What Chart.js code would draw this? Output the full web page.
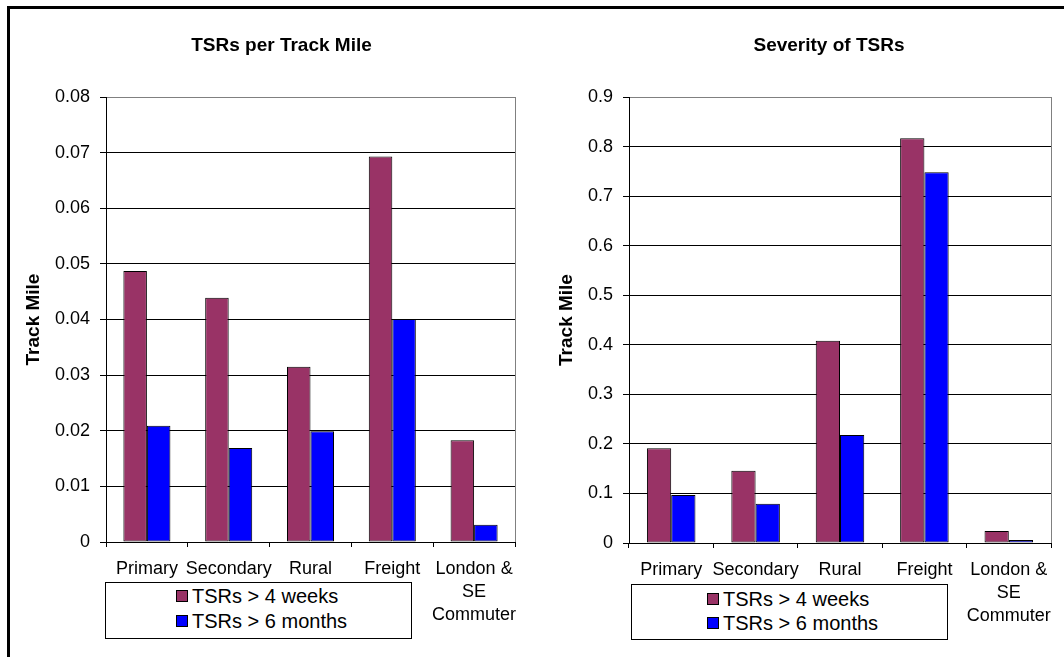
<!DOCTYPE html>
<html>
<head>
<meta charset="utf-8">
<title>TSRs</title>
<script src="https://cdn.jsdelivr.net/npm/chart.js@4.4.0/dist/chart.umd.min.js"></script>
<style>
body { margin: 0; background: #fff; font-family: "Liberation Sans", Arial, sans-serif; }
#page { position: relative; width: 1064px; height: 657px; overflow: hidden; }
#frame { position: absolute; left: 7px; top: 6px; width: 1100px; height: 700px;
         border-top: 3px solid #000; border-left: 3px solid #000; }
.chartBox { position: absolute; top: 0; height: 657px; }
.legend { position: absolute; border: 1px solid #000; background: #fff; box-sizing: border-box; }
.legend .item { position: absolute; height: 24px; display: flex; align-items: center;
                font-size: 20px; white-space: nowrap; color: #000; }
.legend .swatch { width: 10px; height: 10px; border: 1px solid #000; margin-right: 4px; }
</style>
</head>
<body>
<div id="page">
  <div id="frame"></div>
  <div class="chartBox" style="left:0; width:532px;"><canvas id="perMileChart"></canvas></div>
  <div class="chartBox" style="left:532px; width:532px;"><canvas id="severityChart"></canvas></div>
  <div class="legend" id="legendLeft" style="left:105px; top:582px; width:307px; height:57px;"></div>
  <div class="legend" id="legendRight" style="left:631px; top:584px; width:317px; height:56px;"></div>
</div>
<script>
// categories and series
var categories = ['Primary', 'Secondary', 'Rural', 'Freight', ['London &', 'SE', 'Commuter']];
var seriesNames = ['TSRs > 4 weeks', 'TSRs > 6 months'];
var seriesColors = ['#993366', '#0000FF'];

// TSRs per track mile
var perMile4Weeks = [0.0487, 0.0439, 0.0315, 0.0693, 0.0183];
var perMile6Months = [0.0209, 0.0169, 0.0199, 0.0401, 0.0031];
var perMileTicks = [0, 0.01, 0.02, 0.03, 0.04, 0.05, 0.06, 0.07, 0.08];

// severity of TSRs
var severity4Weeks = [0.191, 0.146, 0.408, 0.817, 0.024];
var severity6Months = [0.097, 0.079, 0.218, 0.748, 0.006];
var severityTicks = [0, 0.1, 0.2, 0.3, 0.4, 0.5, 0.6, 0.7, 0.8, 0.9];

Chart.defaults.font.family = '"Liberation Sans", Arial, sans-serif';
Chart.defaults.color = '#000';

// grey frame on the right edge of the plot area
var plotFrame = {
    id: 'plotFrame',
    afterDraw: function (chart) {
        var a = chart.chartArea;
        var c = chart.ctx;
        c.save();
        c.strokeStyle = '#808080';
        c.lineWidth = 1;
        c.beginPath();
        c.moveTo(Math.round(a.right) + 0.5, a.top);
        c.lineTo(Math.round(a.right) + 0.5, a.bottom);
        c.stroke();
        c.restore();
    }
};

// chart heading, centred over the whole chart object rather than the canvas
var heading = {
    id: 'heading',
    afterDraw: function (chart, args, opts) {
        var c = chart.ctx;
        c.save();
        c.font = 'bold 19px "Liberation Sans", Arial, sans-serif';
        c.fillStyle = '#000';
        c.textAlign = 'center';
        c.textBaseline = 'middle';
        c.fillText(opts.text, opts.x, opts.y);
        c.restore();
    }
};

function makeChart(id, title, values, ticks, box) {
    var top = ticks[ticks.length - 1];
    return new Chart(document.getElementById(id), {
        type: 'bar',
        data: {
            labels: categories,
            datasets: values.map(function (v, i) {
                return {
                    label: seriesNames[i],
                    data: v,
                    backgroundColor: seriesColors[i],
                    borderColor: '#000',
                    borderWidth: 1,
                    borderSkipped: false,
                    categoryPercentage: 0.575,
                    barPercentage: 1.0
                };
            })
        },
        options: {
            responsive: true,
            maintainAspectRatio: false,
            animation: false,
            layout: { padding: { left: box.padLeft, right: box.padRight, top: 97, bottom: 0 } },
            plugins: {
                legend: { display: false },
                tooltip: { enabled: false },
                heading: { text: title, x: box.titleX, y: 46 }
            },
            scales: {
                x: {
                    grid: { drawOnChartArea: false, tickLength: 5, color: '#000' },
                    border: { color: '#000', width: 1 },
                    ticks: {
                        font: { size: 18, lineHeight: 1.3 },
                        color: '#000',
                        padding: 10,
                        autoSkip: false,
                        maxRotation: 0,
                        minRotation: 0
                    },
                    afterFit: function (scale) { scale.height = box.xHeight; }
                },
                y: {
                    min: ticks[0],
                    max: top,
                    ticks: {
                        stepSize: ticks[1] - ticks[0],
                        font: { size: 18 },
                        color: '#000',
                        padding: 10
                    },
                    grid: {
                        tickLength: 6,
                        tickColor: '#000',
                        color: function (ctx) {
                            return ctx.tick && Math.abs(ctx.tick.value - top) < 1e-9 ? '#808080' : '#000';
                        }
                    },
                    border: { color: '#000', width: 1 },
                    title: {
                        display: true,
                        text: 'Track Mile',
                        color: '#000',
                        font: { size: 19, weight: 'bold' },
                        padding: { top: box.titlePad, bottom: 0 }
                    },
                    afterFit: function (scale) { scale.width = box.yWidth; }
                }
            }
        },
        plugins: [plotFrame, heading]
    });
}

function makeLegend(id, markerX, rowTops) {
    var el = document.getElementById(id);
    seriesNames.forEach(function (name, i) {
        var item = document.createElement('div');
        item.className = 'item';
        item.style.left = markerX + 'px';
        item.style.top = rowTops[i] + 'px';
        var sw = document.createElement('span');
        sw.className = 'swatch';
        sw.style.background = seriesColors[i];
        var tx = document.createElement('span');
        tx.textContent = name;
        item.appendChild(sw);
        item.appendChild(tx);
        el.appendChild(item);
    });
}

makeChart('perMileChart', 'TSRs per Track Mile', [perMile4Weeks, perMile6Months], perMileTicks,
    { padLeft: 20, padRight: 17, yWidth: 86, xHeight: 115, titlePad: 2.6, titleX: 281.5 });
makeChart('severityChart', 'Severity of TSRs', [severity4Weeks, severity6Months], severityTicks,
    { padLeft: 20, padRight: 13, yWidth: 77, xHeight: 114, titlePad: 3.6, titleX: 297 });

makeLegend('legendLeft', 70, [1, 26]);
makeLegend('legendRight', 75, [2, 26]);
</script>
</body>
</html>
